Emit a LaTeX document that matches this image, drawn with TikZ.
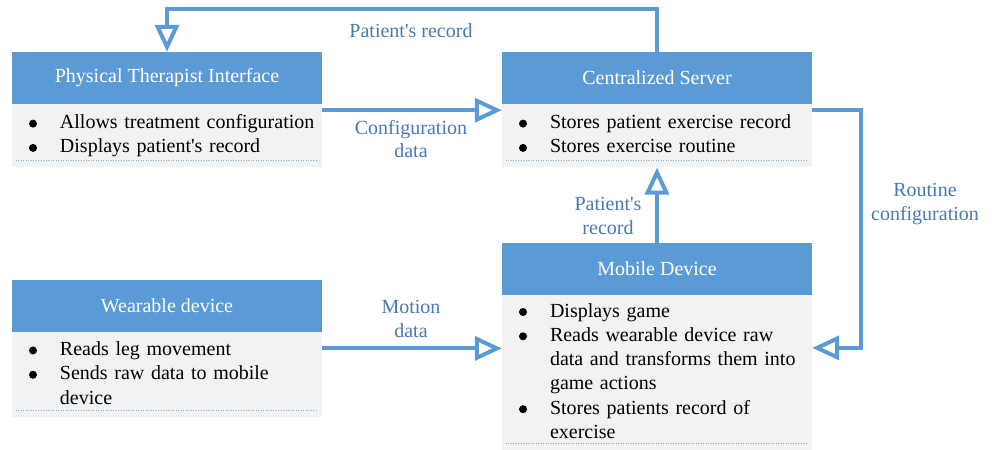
\documentclass[tikz,border=0pt]{standalone}
\usepackage{fontspec}
\setmainfont{Liberation Serif}
\usetikzlibrary{arrows.meta,calc}
\definecolor{lineblue}{RGB}{91,155,213}
\definecolor{labelblue}{RGB}{72,120,180}
\definecolor{bodygray}{RGB}{242,242,242}
\newcommand{\bl}{\tikz[baseline=-5pt]\fill[black] (0pt,0pt) circle (4pt);}
\newcommand{\apo}{\textquotesingle}
\begin{document}
\begin{tikzpicture}[x=1pt,y=-1pt,
  hdr/.style={rectangle, fill=lineblue, text=white, minimum width=310pt, inner sep=0pt,
    font=\fontsize{20}{24}\selectfont},
  bodybox/.style={rectangle, fill=bodygray, minimum width=310pt, text width=310pt, inner sep=0pt, align=left,
    font=\fontsize{20}{24.3}\selectfont, anchor=north},
  conn/.style={draw=lineblue, line width=4pt, line join=miter,
    -{Triangle[open, length=27pt, width=24pt]}},
  lbl/.style={text=labelblue, align=center, inner sep=0pt, font=\fontsize{20}{23.5}\selectfont},
  dotline/.style={draw=lineblue!80, line width=0.5pt, dotted}
]
\useasboundingbox (0,0) rectangle (994,450);

% Headers
\node[hdr, minimum height=52pt] (pti) at (167,78) {Physical Therapist Interface};
\node[hdr, minimum height=52pt] (srv) at (657,78) {Centralized Server};
\node[hdr, minimum height=52pt] (mob) at (657,269) {Mobile Device};
\node[hdr, minimum height=52pt] (wear) at (167,306) {Wearable device};

% Bodies
\node[bodybox, minimum height=63pt] (ptib) at (pti.south) {%
  \begin{tabular}{@{\hspace{17pt}}p{31pt}@{}l@{}}
  \bl & Allows treatment configuration\\
  \bl & Displays patient\apo s record
  \end{tabular}};
\node[bodybox, minimum height=63pt] (srvb) at (srv.south) {%
  \begin{tabular}{@{\hspace{17pt}}p{31pt}@{}l@{}}
  \bl & Stores patient exercise record\\
  \bl & Stores exercise routine
  \end{tabular}};
\node[bodybox, minimum height=155pt] (mobb) at (mob.south) {%
  \begin{tabular}{@{\hspace{17pt}}p{31pt}@{}l@{}}
  \bl & Displays game\\
  \bl & Reads wearable device raw\\
      & data and transforms them into\\
      & game actions\\
  \bl & Stores patients record of\\
      & exercise
  \end{tabular}};
\node[bodybox, minimum height=85pt] (wearb) at (wear.south) {%
  \begin{tabular}{@{\hspace{17pt}}p{31pt}@{}l@{}}
  \bl & Reads leg movement\\
  \bl & Sends raw data to mobile\\
      & device
  \end{tabular}};

% Dotted separators
\foreach \b in {ptib,srvb,mobb,wearb}{
  \draw[dotline] ([xshift=4pt,yshift=7pt]\b.south west) -- ([xshift=-4pt,yshift=7pt]\b.south east);
}

% Connectors
\coordinate (topline) at (0,9);
\draw[conn] (srv.north) |- (topline -| pti.north) -- (pti.north);
\draw[conn] ([yshift=-6pt]pti.south east) -- ([yshift=-6pt]pti.south east -| srv.west);
\draw[conn] ([yshift=-6pt]srv.south east) -| ([xshift=49pt,yshift=25pt]mobb.east) -- ([yshift=25pt]mobb.east);
\draw[conn] (mob.north) -- (srvb.south);
\draw[conn] ([yshift=26.5pt]wearb.east) -- ([yshift=26.5pt]wearb.east -| mobb.west);

% Labels
\node[lbl] (l1) at (411,31) {Patient\apo s record};
\node[lbl] (l2) at (411,139) {Configuration\\data};
\node[lbl] (l3) at (411,319) {Motion\\data};
\node[lbl] (l4) at (608,216) {Patient\apo s\\record};
\node[lbl] (l5) at (925,204) {Routine\\configuration};
\end{tikzpicture}
\end{document}
